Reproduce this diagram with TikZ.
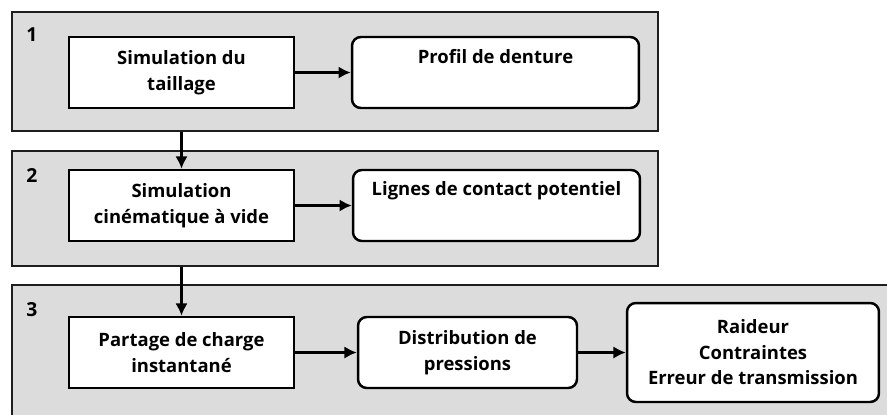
\documentclass[tikz,border=0pt]{standalone}
\usepackage{fontspec}
\setmainfont{Open Sans}
\usetikzlibrary{arrows.meta}
\definecolor{panelc}{HTML}{DCDCDC}
\definecolor{framec}{HTML}{1E1E1E}

\begin{document}
\begin{tikzpicture}[x=0.02cm, y=-0.02cm,
  panel/.style={fill=panelc, draw=framec, line width=1.1pt, inner sep=0pt},
  stepbox/.style={draw=black, fill=white, line width=1.4pt, minimum height=1.42cm,
    align=center, inner sep=2pt, font=\fontsize{10.5}{14.5}\selectfont\bfseries},
  roundbox/.style={stepbox, rounded corners=5pt},
  flow/.style={-{Latex[length=7pt,width=7pt]}, line width=1.8pt},
  num/.style={font=\fontsize{11}{13}\selectfont\bfseries}]
  \useasboundingbox (0,0) rectangle (887,414);
  \clip (0,0) rectangle (887,414);
  % groups
  \node[panel, minimum width=12.92cm, minimum height=2.38cm] (panA) at (335,71.5) {};
  \node[panel, minimum width=12.92cm, minimum height=2.3cm] (panB) at (335,208.5) {};
  \node[panel, minimum width=17.76cm, minimum height=2.9cm] (panC) at (456,357.5) {};
  \node[num] (n1) at (32,35) {1};
  \node[num] (n2) at (32,175) {2};
  \node[num] (n3) at (32,310) {3};
  % boxes
  \node[stepbox, minimum width=4.5cm] (taille) at (181.5,72.5) {Simulation du\\taillage};
  \node[roundbox, minimum width=5.74cm] (profil) at (495.5,72.5) {Profil de denture\\\strut};
  \node[stepbox, minimum width=4.5cm] (cinem) at (181.5,205.5) {Simulation\\cinématique à vide};
  \node[roundbox, minimum width=5.74cm] (lignes) at (496.5,205.5) {Lignes de contact potentiel\\\strut};
  \node[stepbox, minimum width=4.5cm] (partage) at (181.5,352.5) {Partage de charge\\instantané};
  \node[roundbox, minimum width=4.38cm] (distrib) at (467.5,352.5) {Distribution de\\pressions};
  \node[roundbox, minimum width=5.04cm, minimum height=1.98cm] (raideur) at (753,352.5)
    {Raideur\\Contraintes\\Erreur de transmission};
  % links
  \draw[flow] (taille) -- (profil);
  \draw[flow] (cinem) -- (lignes);
  \draw[flow] (partage) -- (distrib);
  \draw[flow] (distrib) -- (raideur);
  \draw[flow] (panA.south -| taille) -- (cinem.north);
  \draw[flow] (panB.south -| cinem) -- (partage.north);
\end{tikzpicture}
\end{document}
